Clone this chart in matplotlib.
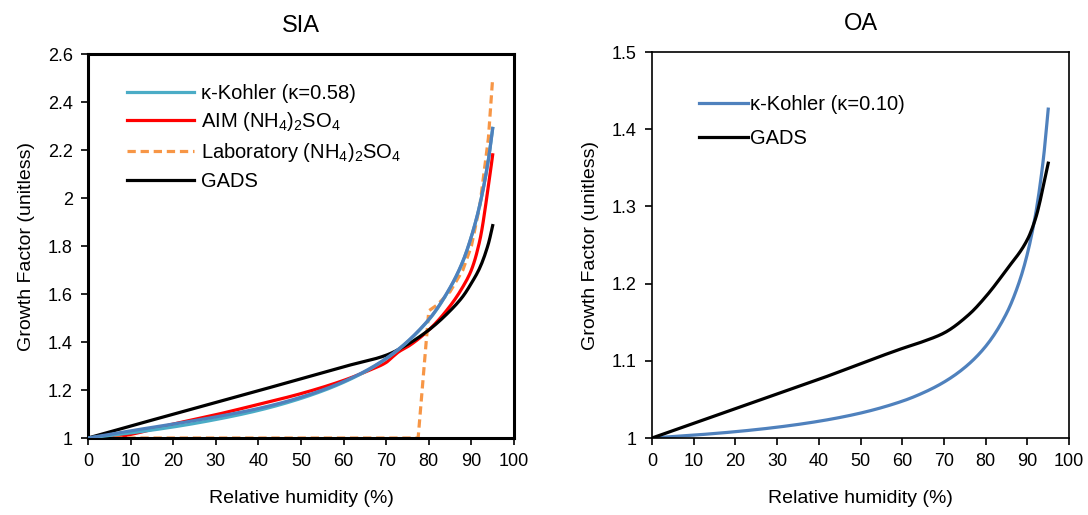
import numpy as np
import matplotlib
matplotlib.use("Agg")
import matplotlib.pyplot as plt

plt.rcParams['font.family'] = ['Liberation Sans', 'DejaVu Sans']
plt.rcParams['mathtext.default'] = 'regular'

# ---- SIA panel data (RH %, growth factor) ----
rh_k058 = [0, 10, 20, 30, 40, 50, 60, 70, 80, 85, 88, 90, 92, 94, 95]
gf_k058 = [1.0, 1.021, 1.046, 1.077, 1.115, 1.165, 1.232, 1.330, 1.492, 1.625, 1.735, 1.839, 1.972, 2.160, 2.290]

rh_k058b = [0, 10, 20, 30, 40, 50, 60, 70, 80, 85, 88, 90, 92, 94, 95]
gf_k058b = [1.0, 1.030, 1.058, 1.088, 1.123, 1.170, 1.235, 1.332, 1.494, 1.627, 1.737, 1.840, 1.973, 2.160, 2.290]

rh_aim = [0, 5, 10, 20, 30, 40, 50, 60, 66, 70, 71.5, 73, 75, 80, 85, 88, 90, 92, 94, 95]
gf_aim = [1.0, 1.0, 1.015, 1.058, 1.097, 1.140, 1.185, 1.240, 1.282, 1.315, 1.338, 1.36, 1.38, 1.45, 1.55, 1.63, 1.70, 1.825, 2.05, 2.18]

rh_lab = [0, 77.5, 80, 82, 85, 88, 90, 92, 94, 95]
gf_lab = [1.0, 1.0, 1.53, 1.555, 1.61, 1.70, 1.80, 1.97, 2.25, 2.50]

rh_gads_sia = [0, 10, 20, 30, 40, 50, 60, 70, 75, 80, 85, 88, 90, 92, 94, 95]
gf_gads_sia = [1.0, 1.050, 1.099, 1.148, 1.197, 1.247, 1.297, 1.345, 1.390, 1.450, 1.530, 1.590, 1.645, 1.710, 1.810, 1.885]

# ---- OA panel data ----
rh_k010 = [0, 10, 20, 30, 40, 50, 60, 65, 70, 75, 80, 85, 88, 90, 92, 93, 94, 95]
gf_k010 = [1.0, 1.0037, 1.0082, 1.0140, 1.0217, 1.0323, 1.0477, 1.0585, 1.0724, 1.0914, 1.1187, 1.1614, 1.2013, 1.2386, 1.2907, 1.3259, 1.3694, 1.4260]

rh_gads_oa = [0, 20, 40, 60, 65, 70, 76, 80, 85, 90, 92, 95]
gf_gads_oa = [1.0, 1.038, 1.076, 1.116, 1.125, 1.136, 1.160, 1.183, 1.218, 1.257, 1.285, 1.356]


def smooth(x, y, n=300):
    x = np.asarray(x, float)
    y = np.asarray(y, float)
    xs = np.linspace(x[0], x[-1], n)
    # monotone cubic through the read points
    h = np.diff(x)
    d = np.diff(y) / h
    m = np.zeros_like(y)
    m[0], m[-1] = d[0], d[-1]
    for i in range(1, len(x) - 1):
        if d[i - 1] * d[i] <= 0:
            m[i] = 0
        else:
            w1 = 2 * h[i] + h[i - 1]
            w2 = h[i] + 2 * h[i - 1]
            m[i] = (w1 + w2) / (w1 / d[i - 1] + w2 / d[i])
    idx = np.clip(np.searchsorted(x, xs) - 1, 0, len(x) - 2)
    t = (xs - x[idx]) / h[idx]
    h00 = 2 * t**3 - 3 * t**2 + 1
    h10 = t**3 - 2 * t**2 + t
    h01 = -2 * t**3 + 3 * t**2
    h11 = t**3 - t**2
    ys = h00 * y[idx] + h10 * h[idx] * m[idx] + h01 * y[idx + 1] + h11 * h[idx] * m[idx + 1]
    return xs, ys


fig = plt.figure(figsize=(10.88, 5.15), dpi=100)
ax1 = fig.add_axes([0.0809, 0.1495, 0.3915, 0.7456])
ax2 = fig.add_axes([0.5993, 0.1495, 0.3833, 0.7495])

lw = 2.3
c_cyan = '#4BACC6'
c_blue = '#4F81BD'
c_red = '#FF0000'
c_orange = '#F79646'

ax1.plot(*smooth(rh_k058, gf_k058), color=c_cyan, lw=lw, label='κ-Kohler (κ=0.58)', zorder=3)
ax1.plot(*smooth(rh_aim, gf_aim), color=c_red, lw=lw, label=r'AIM (NH$_4$)$_2$SO$_4$', zorder=2)
ax1.plot(rh_lab, gf_lab, color=c_orange, lw=lw, ls=(0, (2.6, 1.5)),
         label=r'Laboratory (NH$_4$)$_2$SO$_4$', zorder=2)
ax1.plot(*smooth(rh_gads_sia, gf_gads_sia), color='black', lw=lw, label='GADS', zorder=2)
ax1.plot(*smooth(rh_k058b, gf_k058b), color=c_blue, lw=lw, zorder=3)

ax2.plot(*smooth(rh_k010, gf_k010), color=c_blue, lw=lw, label='κ-Kohler (κ=0.10)')
ax2.plot(*smooth(rh_gads_oa, gf_gads_oa), color='black', lw=lw, label='GADS')

ax1.set_xlim(0, 100)
ax1.set_ylim(1, 2.6)
ax1.set_xticks(range(0, 101, 10))
y1 = [1, 1.2, 1.4, 1.6, 1.8, 2, 2.2, 2.4, 2.6]
ax1.set_yticks(y1)
ax1.set_yticklabels([f'{v:g}' for v in y1])

ax2.set_xlim(0, 100)
ax2.set_ylim(1, 1.5)
ax2.set_xticks(range(0, 101, 10))
y2 = [1, 1.1, 1.2, 1.3, 1.4, 1.5]
ax2.set_yticks(y2)
ax2.set_yticklabels([f'{v:g}' for v in y2])

for ax, sw in ((ax1, 2.2), (ax2, 1.2)):
    for s in ax.spines.values():
        s.set_linewidth(sw)
    ax.tick_params(direction='out', length=5, width=1.2, labelsize=13, pad=6)
    ax.set_xlabel('Relative humidity (%)', fontsize=14, labelpad=14)
    ax.set_ylabel('Growth Factor (unitless)', fontsize=14, labelpad=9)

ax1.set_title('SIA', fontsize=17, pad=16)
ax2.set_title('OA', fontsize=17, pad=16)

ax1.legend(loc='upper left', bbox_to_anchor=(0.05, 0.97), frameon=False, fontsize=14.5,
           handlelength=3.3, handletextpad=0.35, labelspacing=0.38)
ax2.legend(loc='upper left', bbox_to_anchor=(0.07, 0.935), frameon=False, fontsize=14.5,
           handlelength=2.4, handletextpad=0.1, labelspacing=0.75)

fig.savefig('out.png', dpi=100)
